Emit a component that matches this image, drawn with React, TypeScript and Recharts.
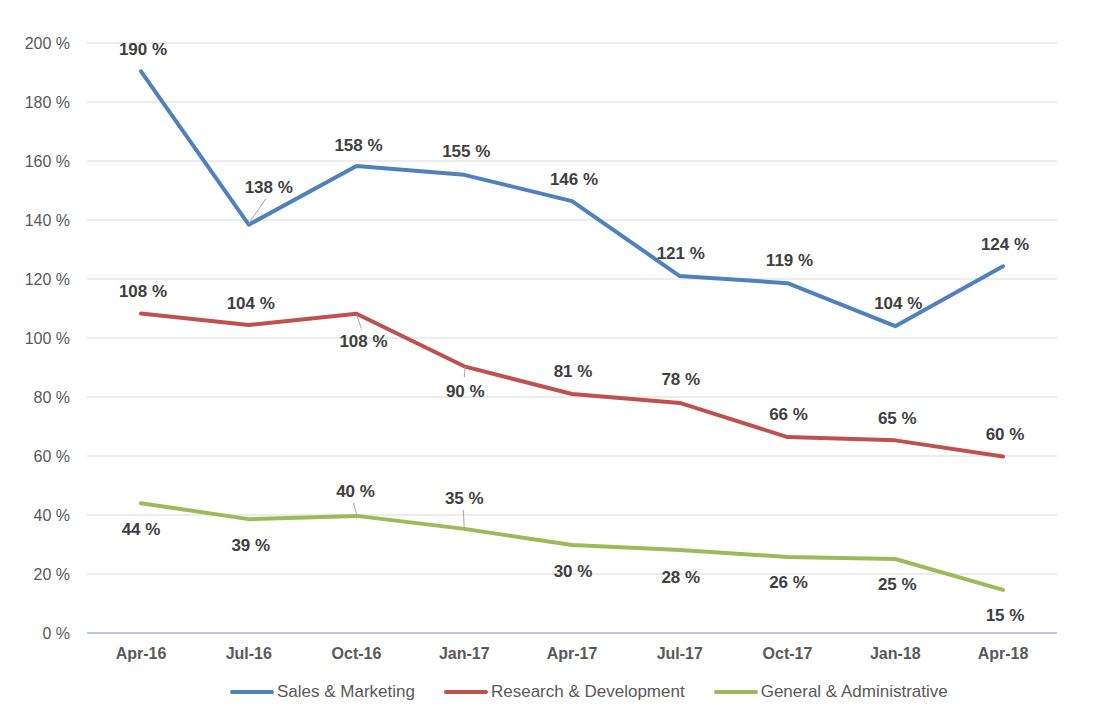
import React from 'react'
import { LineChart, Line, XAxis, YAxis, CartesianGrid, Legend } from 'recharts'

const periods = ['Apr-16', 'Jul-16', 'Oct-16', 'Jan-17', 'Apr-17', 'Jul-17', 'Oct-17', 'Jan-18', 'Apr-18']
const salesMarketing = [190.4, 138.4, 158.3, 155.3, 146.4, 121, 118.6, 104, 124.3]
const researchDev = [108.3, 104.4, 108.2, 90.4, 81, 78, 66.4, 65.3, 59.8]
const generalAdmin = [44, 38.6, 39.7, 35.3, 29.8, 28.1, 25.8, 25.1, 14.6]
const yTicks = [0, 20, 40, 60, 80, 100, 120, 140, 160, 180, 200]

const data = periods.map((p, i) => ({
  period: p,
  sales: salesMarketing[i],
  rnd: researchDev[i],
  gna: generalAdmin[i],
}))

// label placement (text centre relative to the point) and leader lines
const salesLabelPos = [[2, -22], [20, -37], [2, -21], [2, -23], [2, -22], [1, -23], [2, -23], [3, -23], [2, -22]]
const rndLabelPos = [[2, -22], [2, -22], [7, 28], [1, 25], [1, -23], [1, -23], [1, -23], [2, -22], [2, -22]]
const gnaLabelPos = [[0, 26], [2, 26], [-1, -24], [0, -30], [1, 26], [1, 27], [1, 26], [2, 26], [2, 26]]
const salesLeaders: Record<number, number[]> = { 1: [0, -1, 17, -26] }
const rndLeaders: Record<number, number[]> = { 2: [0, 1, 5, 15], 3: [1, 0, 0, 11] }
const gnaLeaders: Record<number, number[]> = { 2: [0, -2, -3, -13], 3: [0, -1, -1, -19] }

const BLUE = '#4F81BD'
const RED = '#C0504D'
const GREEN = '#9BBB59'
const FONT = '"Liberation Sans", Arial, sans-serif'

function makeLabel(pos: number[][], leaders: Record<number, number[]>) {
  return (props: any) => {
    const { x, y, index, value } = props
    if (x == null || y == null) return null
    const [dx, dy] = pos[index]
    const ld = leaders[index]
    return (
      <g key={`lbl-${index}`}>
        {ld && (
          <line x1={x + ld[0]} y1={y + ld[1]} x2={x + ld[2]} y2={y + ld[3]} stroke="#A6A6A6" strokeWidth={1} />
        )}
        <text
          x={x + dx}
          y={y + dy}
          textAnchor="middle"
          dominantBaseline="central"
          fontFamily={FONT}
          fontSize={17}
          fontWeight="bold"
          fill="#404040"
        >
          {`${Math.round(value)} %`}
        </text>
      </g>
    )
  }
}

const legendItems = [
  { name: 'Sales & Marketing', color: BLUE },
  { name: 'Research & Development', color: RED },
  { name: 'General & Administrative', color: GREEN },
]

function renderLegend() {
  return (
    <div style={{ display: 'flex', justifyContent: 'flex-start', alignItems: 'center', gap: 29, paddingLeft: 230, fontFamily: FONT, fontSize: 17, color: '#595959', height: 37 }}>
      {legendItems.map((it) => (
        <div key={it.name} style={{ display: 'flex', alignItems: 'center' }}>
          <span style={{ display: 'inline-block', width: 44, height: 4, background: it.color, borderRadius: 2, marginRight: 3 }} />
          <span>{it.name}</span>
        </div>
      ))}
    </div>
  )
}

export default function App() {
  return (
    <div style={{ position: 'absolute', left: 0, top: 0, width: 1116, height: 720, background: '#fff' }}>
      <LineChart width={1116} height={720} data={data} margin={{ top: 43, right: 59, left: 0, bottom: 10 }}>
        <CartesianGrid vertical={false} stroke="#D9D9D9" />
        <XAxis
          dataKey="period"
          padding={{ left: 54, right: 54 }}
          height={40}
          tickLine={false}
          axisLine={{ stroke: '#8EA9D4' }}
          tickMargin={9}
          tick={{ fontFamily: FONT, fontSize: 16, fontWeight: 'bold', fill: '#595959' }}
        />
        <YAxis
          domain={[0, 200]}
          ticks={yTicks}
          width={87}
          axisLine={false}
          tickLine={false}
          tickMargin={11}
          tickFormatter={(v) => `${v} %`}
          tick={{ fontFamily: FONT, fontSize: 16, fill: '#595959' }}
        />
        <Legend verticalAlign="bottom" height={37} content={renderLegend} />
        <Line dataKey="sales" stroke={BLUE} strokeWidth={4} dot={false} isAnimationActive={false} strokeLinejoin="round" strokeLinecap="round" label={makeLabel(salesLabelPos, salesLeaders)} />
        <Line dataKey="rnd" stroke={RED} strokeWidth={4} dot={false} isAnimationActive={false} strokeLinejoin="round" strokeLinecap="round" label={makeLabel(rndLabelPos, rndLeaders)} />
        <Line dataKey="gna" stroke={GREEN} strokeWidth={4} dot={false} isAnimationActive={false} strokeLinejoin="round" strokeLinecap="round" label={makeLabel(gnaLabelPos, gnaLeaders)} />
      </LineChart>
    </div>
  )
}
